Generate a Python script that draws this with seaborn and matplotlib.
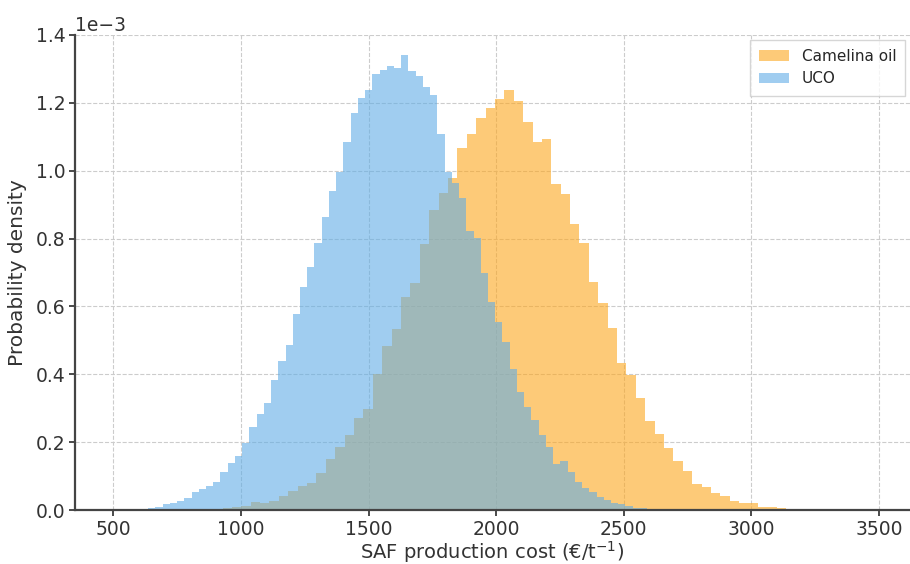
import numpy as np
import pandas as pd
import matplotlib
matplotlib.use("Agg")
import matplotlib.pyplot as plt
import seaborn as sns

# histogram bins (density in units of 1e-3)
uco_start = 523.2
uco_width = 28.33
uco_density = [
    0.001, 0.002, 0.003, 0.004, 0.007, 0.010, 0.017, 0.020, 0.027, 0.036,
    0.053, 0.061, 0.071, 0.083, 0.112, 0.139, 0.160, 0.197, 0.246, 0.283,
    0.316, 0.383, 0.439, 0.486, 0.577,
    0.658, 0.717, 0.786, 0.863, 0.941, 0.995, 1.086, 1.169, 1.213, 1.238,
    1.285, 1.296, 1.310, 1.304, 1.341, 1.294, 1.280, 1.246, 1.223, 1.108,
    0.995,
    0.963, 0.919, 0.822, 0.801, 0.699, 0.614, 0.555, 0.496, 0.417, 0.349,
    0.304, 0.265, 0.221, 0.187, 0.136, 0.144, 0.113, 0.083, 0.064, 0.054,
    0.039, 0.029, 0.022, 0.017, 0.011, 0.007, 0.005, 0.004, 0.003, 0.002,
    0.001,
]

camelina_start = 854.3
camelina_width = 36.8
camelina_density = [
    0.002, 0.003, 0.006, 0.008, 0.012, 0.025, 0.020, 0.027, 0.042, 0.057,
    0.071, 0.079, 0.108, 0.149, 0.186, 0.221, 0.270, 0.297, 0.401, 0.483,
    0.533, 0.628, 0.670, 0.783, 0.884, 0.935, 0.979,
    1.068, 1.108, 1.154, 1.184, 1.211, 1.238, 1.206, 1.144, 1.086, 1.093,
    0.960, 0.931, 0.842, 0.788, 0.671, 0.609, 0.537, 0.432, 0.398, 0.329,
    0.263, 0.223, 0.182, 0.145, 0.116, 0.077, 0.069, 0.049, 0.041, 0.027,
    0.020, 0.020, 0.010, 0.009, 0.005, 0.003, 0.002, 0.001,
]

series = [
    ("Camelina oil", camelina_start, camelina_width, camelina_density, "#fda71e"),
    ("UCO", uco_start, uco_width, uco_density, "#61ade6"),
]

sns.set_theme(style="ticks")
plt.rcParams["font.family"] = ["DejaVu Sans"]

fig = plt.figure(figsize=(9.1, 5.64), dpi=100)
ax = fig.add_axes([0.0824, 0.0957, 0.9176, 0.8423])

for nombre, inicio, ancho, dens, color in series:
    edges = [inicio + ancho * i for i in range(len(dens) + 1)]
    tabla = pd.DataFrame({
        "coste": [(edges[i] + edges[i + 1]) / 2 for i in range(len(dens))],
        "peso": [d * 1e-3 for d in dens],
    })
    sns.histplot(
        data=tabla,
        x="coste",
        weights="peso",
        bins=edges,
        element="step",
        fill=True,
        color=color,
        alpha=0.6,
        linewidth=0,
        label=nombre,
        ax=ax,
    )

ax.set_xlim(350, 3621)
ax.set_ylim(0, 1.4e-3)
ax.set_xticks(np.arange(500, 3501, 500))
ax.set_yticks(np.arange(0, 1.41e-3, 0.2e-3))
ax.ticklabel_format(axis="y", style="sci", scilimits=(0, 0))
ax.grid(True, linestyle="--", color="#cccccc", linewidth=0.8)
ax.set_axisbelow(True)
for lado in ["top", "right"]:
    ax.spines[lado].set_visible(False)
for lado in ["left", "bottom"]:
    ax.spines[lado].set_color("#444444")
    ax.spines[lado].set_linewidth(1.6)
ax.tick_params(labelsize=13.5, colors="#333333", length=4, pad=3)
ax.yaxis.get_offset_text().set_fontsize(13.5)
ax.yaxis.get_offset_text().set_color("#333333")

ax.set_xlabel("SAF production cost (€/t$^{-1}$)", fontsize=14, color="#333333",
              labelpad=0)
ax.set_ylabel("Probability density", fontsize=14.5, color="#333333", labelpad=6)
ax.legend(loc="upper right", fontsize=11, frameon=True, edgecolor="#cccccc",
          fancybox=False, borderpad=0.6, borderaxespad=0.3)

fig.savefig("out.png", dpi=100)
plt.close(fig)
